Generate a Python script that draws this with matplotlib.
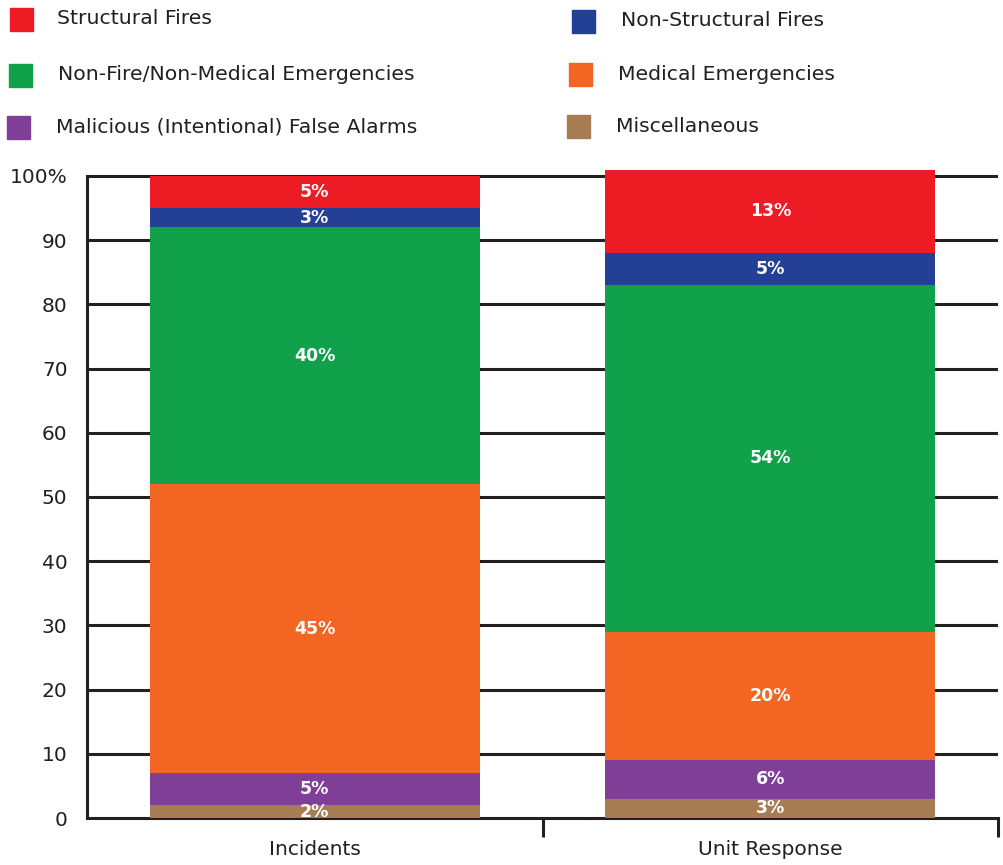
import matplotlib.pyplot as plt
from matplotlib.patches import Rectangle
import numpy as np

categories = ['Incidents', 'Unit Response']

# segment names, bottom of the stack first
series_names = [
    'Miscellaneous',
    'Malicious (Intentional) False Alarms',
    'Medical Emergencies',
    'Non-Fire/Non-Medical Emergencies',
    'Non-Structural Fires',
    'Structural Fires',
]
misc = [2, 3]
malicious = [5, 6]
medical = [45, 20]
non_fire = [40, 54]
non_structural = [3, 5]
structural = [5, 13]

series_values = [misc, malicious, medical, non_fire, non_structural, structural]
series_colors = ['#a67c52', '#7f3f98', '#f26522', '#10a14a', '#233f96', '#ed1c24']

y_ticks = [0, 10, 20, 30, 40, 50, 60, 70, 80, 90, 100]
y_tick_labels = ['0', '10', '20', '30', '40', '50', '60', '70', '80', '90', '100%']

W, H = 1004, 865
fig = plt.figure(figsize=(W / 100, H / 100), dpi=100)
text_color = '#231f20'

# axes placed in pixel terms
left, right, bottom, top = 87, 998, 818, 160
ax = fig.add_axes([left / W, 1 - bottom / H, (right - left) / W, (bottom - top) / H])

x = np.arange(len(categories))
base = np.zeros(len(categories))
for vals, color in zip(series_values, series_colors):
    vals = np.array(vals, dtype=float)
    ax.bar(x, vals, bottom=base, width=0.725, color=color, zorder=3)
    for xi, b, v in zip(x, base, vals):
        ax.text(xi, b + v / 2, f'{v:.0f}%', ha='center', va='center',
                color='white', fontsize=12.5, fontweight='bold', zorder=4)
    base += vals

ax.set_xlim(-0.5, 1.5)
ax.set_ylim(0, (bottom - top) / 6.42)

for y in y_ticks[1:]:
    ax.axhline(y, color=text_color, lw=2.2, zorder=1)

ax.set_yticks(y_ticks)
ax.set_yticklabels(y_tick_labels, fontsize=14.5, color=text_color)
ax.tick_params(axis='y', length=0, pad=14)

ax.set_xticks(x)
ax.set_xticklabels(categories, fontsize=14.5, color=text_color)
ax.tick_params(axis='x', which='major', length=0, pad=16)
ax.set_xticks([0.5, 1.5], minor=True)
ax.tick_params(axis='x', which='minor', length=14, width=2.2, color=text_color, direction='out')

for side in ['top', 'right']:
    ax.spines[side].set_visible(False)
for side in ['left', 'bottom']:
    ax.spines[side].set_color(text_color)
    ax.spines[side].set_linewidth(2.2)
ax.spines['left'].set_bounds(0, 100)

# legend laid out in two columns across the top
legend_items = [
    ('Structural Fires', '#ed1c24', 10, 8, 57),
    ('Non-Structural Fires', '#233f96', 572, 10, 621),
    ('Non-Fire/Non-Medical Emergencies', '#10a14a', 9, 64, 58),
    ('Medical Emergencies', '#f26522', 569, 63, 618),
    ('Malicious (Intentional) False Alarms', '#7f3f98', 7, 116, 56),
    ('Miscellaneous', '#a67c52', 567, 115, 616),
]
for label, color, sx, sy, tx in legend_items:
    fig.add_artist(Rectangle((sx / W, 1 - (sy + 23) / H), 23 / W, 23 / H,
                             transform=fig.transFigure, color=color))
    fig.text(tx / W, 1 - (sy + 11) / H, label, fontsize=14.7, color=text_color,
             ha='left', va='center')

fig.savefig('out.png', dpi=100)
